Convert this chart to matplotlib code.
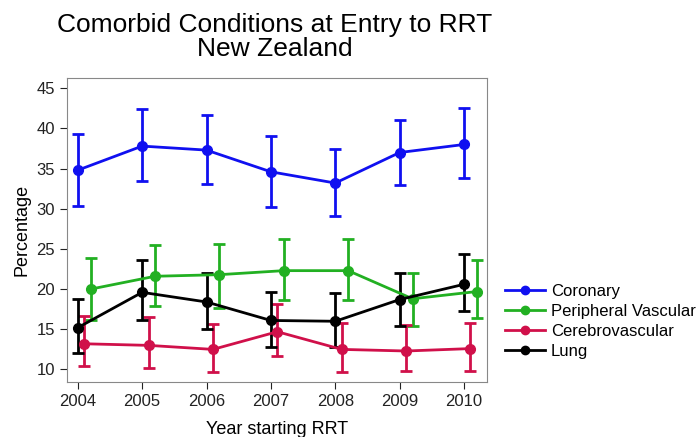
import numpy as np
import matplotlib.pyplot as plt
from matplotlib.lines import Line2D

plt.rcParams['font.family'] = ['Liberation Sans', 'DejaVu Sans']

years = [2004, 2005, 2006, 2007, 2008, 2009, 2010]

coronary = [34.8, 37.8, 37.3, 34.6, 33.2, 37.0, 38.0]
coronary_lo = [30.4, 33.4, 33.1, 30.2, 29.1, 33.0, 33.8]
coronary_hi = [39.3, 42.4, 41.7, 39.1, 37.5, 41.0, 42.5]

peripheral = [20.0, 21.6, 21.8, 22.3, 22.3, 18.8, 19.7]
peripheral_lo = [16.1, 17.9, 17.6, 18.6, 18.6, 15.4, 16.4]
peripheral_hi = [23.9, 25.5, 25.6, 26.3, 26.2, 22.0, 23.6]

cerebro = [13.2, 13.0, 12.5, 14.7, 12.5, 12.3, 12.6]
cerebro_lo = [10.4, 10.2, 9.7, 11.7, 9.7, 9.8, 9.8]
cerebro_hi = [16.6, 16.5, 15.6, 18.2, 15.8, 15.5, 15.8]

lung = [15.2, 19.6, 18.4, 16.1, 16.0, 18.7, 20.6]
lung_lo = [12.0, 16.1, 15.0, 12.8, 12.8, 15.4, 17.3]
lung_hi = [18.8, 23.6, 22.0, 19.6, 19.5, 22.0, 24.4]

series = [
    ("Coronary", coronary, coronary_lo, coronary_hi, "#1010f0", 0.0),
    ("Peripheral Vascular", peripheral, peripheral_lo, peripheral_hi, "#22b022", 0.2),
    ("Cerebrovascular", cerebro, cerebro_lo, cerebro_hi, "#d0104a", 0.1),
    ("Lung", lung, lung_lo, lung_hi, "#000000", 0.0),
]

fig = plt.figure(figsize=(6.96, 4.37), dpi=100)
ax = fig.add_axes([0.096, 0.126, 0.604, 0.696])

handles = []
for name, y, lo, hi, col, off in series:
    x = np.array(years) + off
    y = np.array(y)
    yerr = [y - np.array(lo), np.array(hi) - y]
    ax.errorbar(x, y, yerr=yerr, color=col, marker='o', markersize=7,
                linewidth=2, elinewidth=2, capsize=4, capthick=2)
    handles.append(Line2D([], [], color=col, marker='o', markersize=6,
                          linewidth=2, label=name))

ax.set_xlim(2003.83, 2010.36)
ax.set_ylim(8.45, 46.3)
ax.set_xticks(years)
ax.set_yticks(range(10, 50, 5))
ax.tick_params(labelsize=12, direction='out', length=5, colors='#222222')
for s in ax.spines.values():
    s.set_color('#888888')

ax.set_xlabel("Year starting RRT", fontsize=13, labelpad=9)
ax.set_ylabel("Percentage", fontsize=13)
fig.suptitle("Comorbid Conditions at Entry to RRT\nNew Zealand", fontsize=19,
             x=0.395, y=0.97, linespacing=1.0)

fig.legend(handles=handles, loc='upper left',
           bbox_to_anchor=(505 / 696, 1 - 284 / 437), frameon=False,
           fontsize=12, handlelength=2.4, handletextpad=0.36,
           labelspacing=0.3, borderpad=0, borderaxespad=0)

fig.savefig("out.png", dpi=100)
